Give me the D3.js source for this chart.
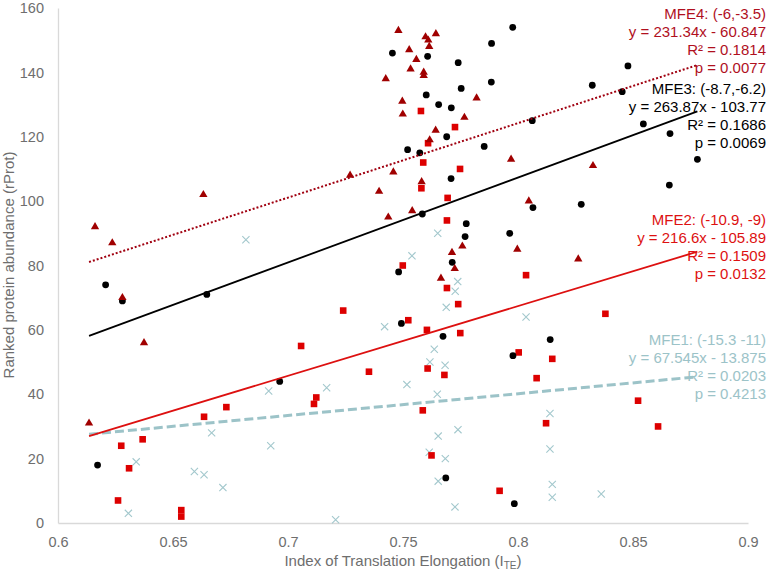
<!DOCTYPE html>
<html>
<head>
<meta charset="utf-8">
<script src="https://cdn.jsdelivr.net/npm/d3@7"></script>
<style>
  body { margin: 0; background: #fff; }
  svg { font-family: "Liberation Sans", Arial, sans-serif; }
</style>
</head>
<body>
<div id="chart"></div>
<script>
// Series data: [ITE, rProt]
const mfe1Points = [[0.6306,3],[0.634,19],[0.6593,16],[0.6635,15],[0.6668,28],[0.6717,11],[0.6817,88],[0.6916,41],[0.6925,24],[0.7168,42],[0.7207,1],[0.742,61],[0.7517,43],[0.7539,83],[0.7614,22],[0.7617,50],[0.7636,54],[0.7649,40],[0.7651,90],[0.7653,27],[0.7653,13],[0.7683,49],[0.7684,20],[0.7688,67],[0.7727,72],[0.7726,5],[0.7738,75],[0.7739,29],[0.8035,64],[0.8139,34],[0.8139,23],[0.8149,12],[0.8149,8],[0.8362,9]];
const mfe2Points = [[0.6261,7],[0.6275,24],[0.6309,17],[0.6368,26],[0.6536,4],[0.6536,2],[0.6635,33],[0.6732,36],[0.7057,55],[0.7113,37],[0.7123,39],[0.724,66],[0.7352,47],[0.7499,80],[0.7523,63],[0.7578,128],[0.758,104],[0.7586,35],[0.7588,112],[0.7604,60],[0.7607,48],[0.7609,118],[0.7624,21],[0.768,46],[0.7691,73],[0.7691,94],[0.7694,101],[0.7726,123],[0.774,68],[0.7748,110],[0.7749,59],[0.792,10],[0.8003,53],[0.8035,77],[0.8081,45],[0.8122,31],[0.8149,51],[0.838,65],[0.8522,38],[0.8609,30]];
const mfe3Points = [[0.6172,18],[0.6207,74],[0.628,69],[0.6647,71],[0.6964,44],[0.7454,146],[0.7481,78],[0.7493,62],[0.752,116],[0.7573,115],[0.7584,96],[0.7601,133],[0.7607,145],[0.7655,130],[0.7674,58],[0.7686,14],[0.769,120],[0.7709,107],[0.771,129],[0.7714,81],[0.774,143],[0.7753,135],[0.777,89],[0.7775,93],[0.7853,117],[0.7884,137],[0.7885,149],[0.7964,90],[0.7977,154],[0.7978,52],[0.7984,6],[0.8062,125],[0.8065,98],[0.814,57],[0.8275,99],[0.8323,136],[0.8453,134],[0.8478,142],[0.8545,124],[0.8658,105],[0.8661,121],[0.878,113]];
const mfe4Points = [[0.6135,31],[0.6161,92],[0.6236,87],[0.628,70],[0.6374,56],[0.6632,102],[0.727,108],[0.7396,103],[0.7425,138],[0.7436,95],[0.7458,109],[0.748,153],[0.7497,131],[0.7499,127],[0.7527,147],[0.7533,141],[0.754,97],[0.7558,144],[0.7581,106],[0.759,140],[0.759,139],[0.7598,151],[0.761,150],[0.7614,148],[0.7616,119],[0.7642,122],[0.7643,152],[0.7665,76],[0.7713,84],[0.7725,79],[0.7758,86],[0.7767,126],[0.782,132],[0.797,113],[0.7997,85],[0.8047,100],[0.8262,82],[0.8326,111]];

// Trend lines (MFE1..MFE4)
const fitSlopes = [67.545, 216.6, 263.87, 231.34];
const fitIntercepts = [-13.875, -105.89, -103.77, -60.847];
const fitRange = [0.6135, 0.878];

const labelLines = [
  ["MFE1: (-15.3 -11)", "y = 67.545x - 13.875", "R² = 0.0203", "p = 0.4213"],
  ["MFE2: (-10.9, -9)", "y = 216.6x - 105.89", "R² = 0.1509", "p = 0.0132"],
  ["MFE3: (-8.7,-6.2)", "y = 263.87x - 103.77", "R² = 0.1686", "p = 0.0069"],
  ["MFE4: (-6,-3.5)", "y = 231.34x - 60.847", "R² = 0.1814", "p = 0.0077"]
];

const xTicks = [0.6, 0.65, 0.7, 0.75, 0.8, 0.85, 0.9];
const yTicks = [0, 20, 40, 60, 80, 100, 120, 140, 160];

const width = 770, height = 573;
const x = d3.scaleLinear().domain([0.6, 0.9]).range([58, 748]);
const y = d3.scaleLinear().domain([0, 160]).range([523, 8]);

const svg = d3.select("#chart").append("svg")
  .attr("width", width)
  .attr("height", height);

// Axes
const yAxis = svg.append("g")
  .attr("transform", "translate(58,0)")
  .call(d3.axisLeft(y).tickValues(yTicks).tickSize(0).tickSizeOuter(0).tickPadding(14));
const xAxis = svg.append("g")
  .attr("transform", "translate(0,523)")
  .call(d3.axisBottom(x).tickValues(xTicks).tickSize(0).tickSizeOuter(0).tickPadding(14).tickFormat(d3.format("")));

[xAxis, yAxis].forEach((g) => {
  g.select(".domain").attr("stroke", "#d9d9d9").attr("stroke-width", 1.3);
  g.selectAll("text").attr("fill", "#6e6e6e").style("font-size", "14.5px");
});

// Axis titles
svg.append("text")
  .attr("transform", "translate(14,265) rotate(-90)")
  .attr("text-anchor", "middle")
  .attr("fill", "#6e6e6e")
  .style("font-size", "15px")
  .text("Ranked protein abundance (rProt)");

const xt = svg.append("text")
  .attr("x", 403)
  .attr("y", 566)
  .attr("text-anchor", "middle")
  .attr("fill", "#6e6e6e")
  .style("font-size", "15px");
xt.append("tspan").text("Index of Translation Elongation (I");
xt.append("tspan").attr("dy", 3).style("font-size", "10px").text("TE");
xt.append("tspan").attr("dy", -3).text(")");

// Trend lines
const lineStyles = [
  { color: "#9cc3c8", width: 3, dash: "9,4" },
  { color: "#dd1010", width: 1.8, dash: null },
  { color: "#000000", width: 1.8, dash: null },
  { color: "#a00010", width: 2, dash: "2,2" }
];
const line = d3.line().x((d) => x(d[0])).y((d) => y(d[1]));

// Points
const plot = svg.append("g");

plot.selectAll(".mfe1")
  .data(mfe1Points)
  .enter()
  .append("path")
  .attr("class", "mfe1")
  .attr("d", (d) => {
    const cx = x(d[0]), cy = y(d[1]), r = 3.6;
    return `M${cx - r},${cy - r}L${cx + r},${cy + r}M${cx - r},${cy + r}L${cx + r},${cy - r}`;
  })
  .attr("stroke", "#a3c8cd")
  .attr("stroke-width", 1.1)
  .attr("fill", "none");

plot.selectAll(".mfe2")
  .data(mfe2Points)
  .enter()
  .append("rect")
  .attr("class", "mfe2")
  .attr("x", (d) => x(d[0]) - 3.3)
  .attr("y", (d) => y(d[1]) - 3.3)
  .attr("width", 6.6)
  .attr("height", 6.6)
  .attr("fill", "#dd0000");

plot.selectAll(".mfe3")
  .data(mfe3Points)
  .enter()
  .append("circle")
  .attr("class", "mfe3")
  .attr("cx", (d) => x(d[0]))
  .attr("cy", (d) => y(d[1]))
  .attr("r", 3.4)
  .attr("fill", "#000");

const tri = d3.symbol().type(d3.symbolTriangle).size(30);
plot.selectAll(".mfe4")
  .data(mfe4Points)
  .enter()
  .append("path")
  .attr("class", "mfe4")
  .attr("transform", (d) => `translate(${x(d[0])},${y(d[1])})`)
  .attr("d", tri)
  .attr("fill", "#a00000");

fitSlopes.forEach((m, i) => {
  const pts = fitRange.map((v) => [v, m * v + fitIntercepts[i]]);
  svg.append("path")
    .datum(pts)
    .attr("d", line)
    .attr("fill", "none")
    .attr("stroke", lineStyles[i].color)
    .attr("stroke-width", lineStyles[i].width)
    .attr("stroke-dasharray", lineStyles[i].dash);
});

// Annotations
const labelColors = ["#9cc3c8", "#dd1111", "#000000", "#b0101e"];
const labelTops = [345, 225, 94, 19];
labelLines.forEach((lines, i) => {
  const t = svg.append("text")
    .attr("text-anchor", "end")
    .attr("fill", labelColors[i])
    .style("font-size", "15px");
  lines.forEach((s, j) => {
    t.append("tspan").attr("x", 766).attr("y", labelTops[i] + j * 17.9).text(s);
  });
});
</script>
</body>
</html>
